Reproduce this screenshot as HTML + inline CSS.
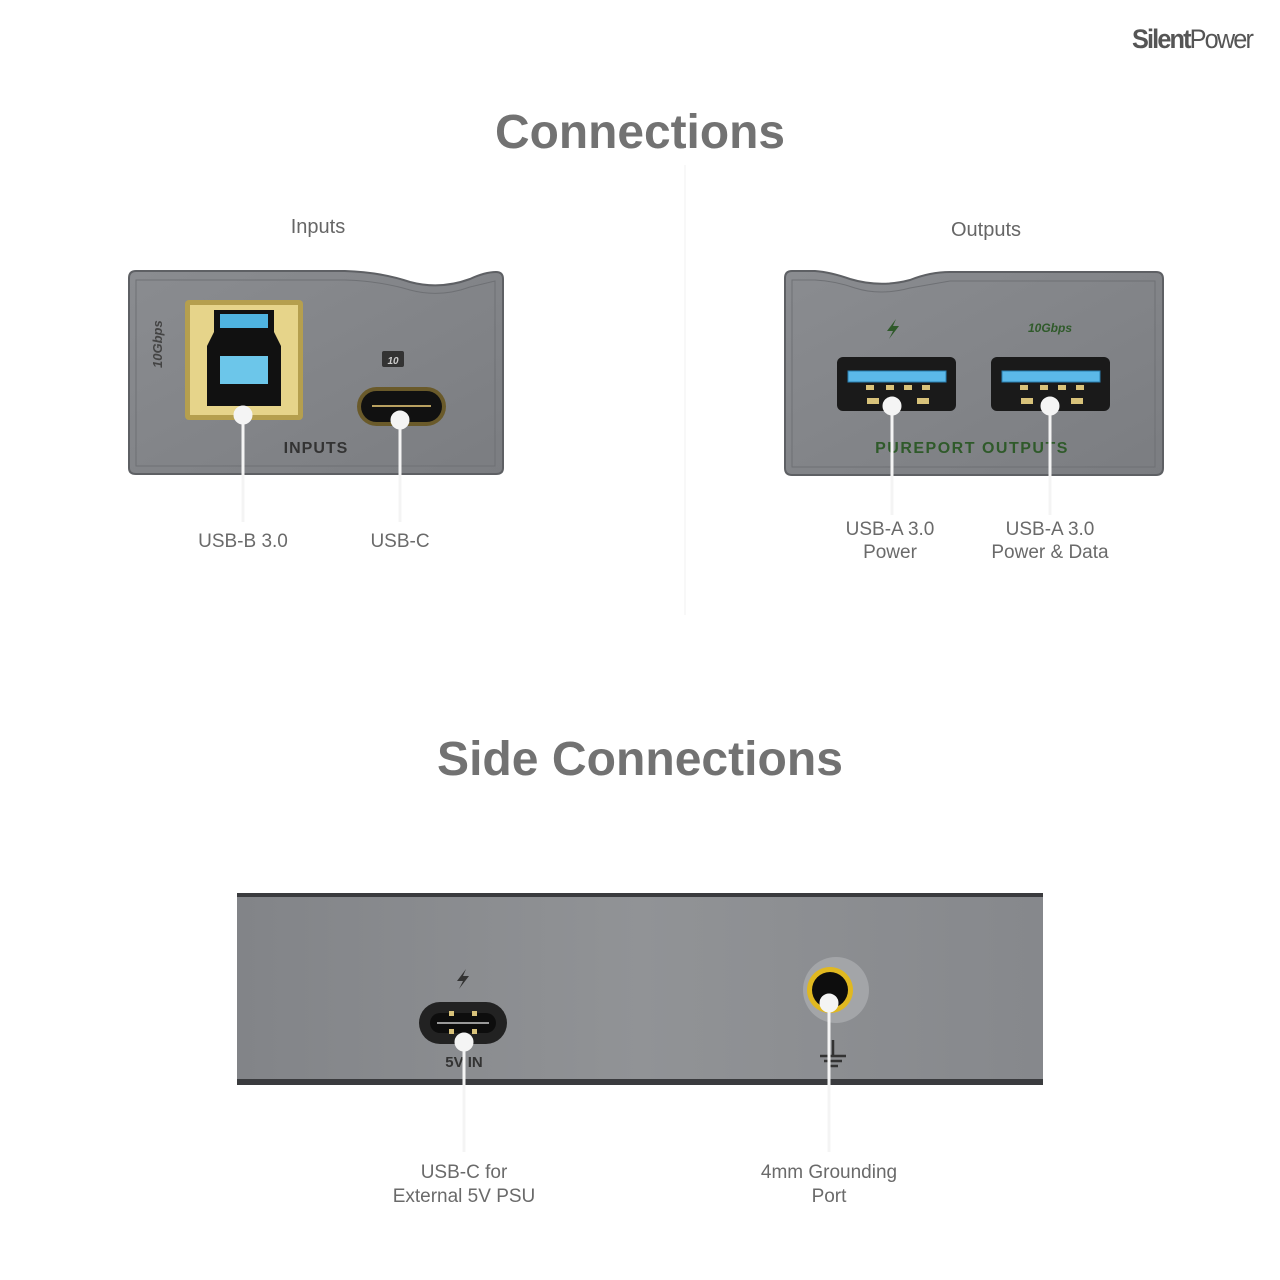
<!DOCTYPE html>
<html><head><meta charset="utf-8"><style>
html,body{margin:0;padding:0;background:#fff;}
svg{display:block;}
text{font-family:"Liberation Sans",sans-serif;}
</style></head><body>
<svg width="1280" height="1280" viewBox="0 0 1280 1280" xmlns="http://www.w3.org/2000/svg">
<defs>
<linearGradient id="pg" x1="0" y1="0" x2="1" y2="1"><stop offset="0" stop-color="#8a8c90"/><stop offset="1" stop-color="#7b7d81"/></linearGradient>
<linearGradient id="sg" x1="0" y1="0" x2="1" y2="0"><stop offset="0" stop-color="#828488"/><stop offset="0.5" stop-color="#919396"/><stop offset="1" stop-color="#86888c"/></linearGradient>
</defs>
<rect width="1280" height="1280" fill="#fff"/>
<text x="1252" y="48" text-anchor="end" font-size="27" fill="#555" font-weight="bold" letter-spacing="-2" textLength="120" lengthAdjust="spacingAndGlyphs">Silent<tspan font-weight="normal">Power</tspan></text>
<text x="640" y="148" text-anchor="middle" font-size="48" font-weight="bold" fill="#727272" textLength="290" lengthAdjust="spacingAndGlyphs">Connections</text>
<line x1="685" y1="165" x2="685" y2="615" stroke="#f2f2f2" stroke-width="1"/>
<text x="318" y="233" text-anchor="middle" font-size="20" fill="#666">Inputs</text>
<text x="986" y="236" text-anchor="middle" font-size="20" fill="#666">Outputs</text>

<!-- Left panel -->
<path d="M129,278 Q129,271 136,271 L345,271 Q380,272 410,282 Q440,290 470,279 Q485,272 496,272 Q503,272 503,279 L503,468 Q503,474 496,474 L136,474 Q129,474 129,468 Z" fill="url(#pg)" stroke="#5e6064" stroke-width="2"/>
<path d="M136,280 L345,280 Q380,281 410,290 Q440,298 470,287 L495,281 L495,466 L136,466 Z" fill="none" stroke="#6e7074" stroke-width="1"/>
<rect x="185" y="300" width="118" height="120" rx="4" fill="#b59f4e"/>
<rect x="190" y="305" width="108" height="110" fill="#e6d48a"/>
<rect x="214" y="310" width="60" height="22" fill="#111"/>
<rect x="220" y="314" width="48" height="14" fill="#4fb3e0"/>
<path d="M214,332 L274,332 L281,346 L281,406 L207,406 L207,346 Z" fill="#111"/>
<rect x="220" y="356" width="48" height="28" fill="#6cc6ea"/>
<text x="162" y="368" font-size="13" font-weight="bold" fill="#444" transform="rotate(-90 162 368)" font-style="italic">10Gbps</text>
<rect x="382" y="351" width="22" height="16" rx="2" fill="#333"/>
<text x="393" y="364" text-anchor="middle" font-size="10" fill="#ccc" font-style="italic" font-weight="bold">10</text>
<rect x="357" y="387" width="89" height="39" rx="19.5" fill="#6a5a2a"/>
<rect x="361" y="391" width="81" height="31" rx="15.5" fill="#111"/>
<line x1="372" y1="406" x2="431" y2="406" stroke="#b8a060" stroke-width="2"/>
<text x="316" y="453" text-anchor="middle" font-size="16" font-weight="bold" fill="#333" letter-spacing="1">INPUTS</text>

<!-- Right panel -->
<path d="M785,278 Q785,271 792,271 L815,271 Q830,272 850,279 Q880,288 910,280 Q930,272 950,272 L1156,272 Q1163,272 1163,279 L1163,468 Q1163,475 1156,475 L792,475 Q785,475 785,468 Z" fill="url(#pg)" stroke="#5e6064" stroke-width="2"/>
<path d="M792,280 L815,280 Q835,281 855,288 Q880,296 910,288 L950,281 L1155,281 L1155,467 L792,467 Z" fill="none" stroke="#6e7074" stroke-width="1"/>
<polygon points="896,319 887,331 893,331 889,339 899,326 893,326" fill="#2f5a2a"/>
<text x="1050" y="332" text-anchor="middle" font-size="12" fill="#2f5a2a" font-weight="bold" font-style="italic">10Gbps</text>
<rect x="837" y="357" width="119" height="54" rx="6" fill="#1a1a1a"/>
<rect x="848" y="371" width="98" height="11" fill="#5bb8e8" stroke="#2a7fb0"/>
<rect x="991" y="357" width="119" height="54" rx="6" fill="#1a1a1a"/>
<rect x="1002" y="371" width="98" height="11" fill="#5bb8e8" stroke="#2a7fb0"/>
<g fill="#d8c27a">
<rect x="866" y="385" width="8" height="5"/><rect x="886" y="385" width="8" height="5"/><rect x="904" y="385" width="8" height="5"/><rect x="922" y="385" width="8" height="5"/>
<rect x="867" y="398" width="12" height="6"/><rect x="917" y="398" width="12" height="6"/>
<rect x="1020" y="385" width="8" height="5"/><rect x="1040" y="385" width="8" height="5"/><rect x="1058" y="385" width="8" height="5"/><rect x="1076" y="385" width="8" height="5"/>
<rect x="1021" y="398" width="12" height="6"/><rect x="1071" y="398" width="12" height="6"/>
</g>
<text x="972" y="453" text-anchor="middle" font-size="16" font-weight="bold" fill="#2f5a2a" letter-spacing="1.5">PUREPORT OUTPUTS</text>

<!-- connectors top -->
<g stroke="#f4f4f4" stroke-width="3" fill="#f4f4f4">
<line x1="243" y1="415" x2="243" y2="522"/><circle cx="243" cy="415" r="8"/>
<line x1="400" y1="420" x2="400" y2="522"/><circle cx="400" cy="420" r="8"/>
<line x1="892" y1="406" x2="892" y2="515"/><circle cx="892" cy="406" r="8"/>
<line x1="1050" y1="406" x2="1050" y2="515"/><circle cx="1050" cy="406" r="8"/>
</g>
<g font-size="19" fill="#6a6a6a" text-anchor="middle">
<text x="243" y="547">USB-B 3.0</text>
<text x="400" y="547">USB-C</text>
<text x="890" y="535">USB-A 3.0</text><text x="890" y="558">Power</text>
<text x="1050" y="535">USB-A 3.0</text><text x="1050" y="558">Power &amp; Data</text>
</g>

<text x="640" y="775" text-anchor="middle" font-size="48" font-weight="bold" fill="#727272" textLength="406" lengthAdjust="spacingAndGlyphs">Side Connections</text>

<!-- side panel -->
<rect x="237" y="893" width="806" height="192" fill="url(#sg)"/>
<rect x="237" y="893" width="806" height="4" fill="#3a3b3e"/>
<rect x="237" y="1079" width="806" height="6" fill="#3a3b3e"/>
<polygon points="466,969 457,981 463,981 459,989 469,976 463,976" fill="#333"/>
<rect x="419" y="1002" width="88" height="42" rx="21" fill="#222"/>
<rect x="430" y="1013" width="66" height="20" rx="10" fill="#0d0d0d"/>
<line x1="437" y1="1023" x2="489" y2="1023" stroke="#999" stroke-width="2"/>
<g fill="#d8c27a"><rect x="449" y="1011" width="5" height="5"/><rect x="472" y="1011" width="5" height="5"/><rect x="449" y="1029" width="5" height="5"/><rect x="472" y="1029" width="5" height="5"/></g>
<text x="464" y="1067" text-anchor="middle" font-size="15" font-weight="bold" fill="#333">5V IN</text>
<circle cx="836" cy="990" r="33" fill="#a3a5a8"/>
<circle cx="830" cy="990" r="23" fill="#e0b820"/>
<circle cx="830" cy="990" r="18" fill="#0d0d0d"/>
<g stroke="#333" stroke-width="2.5"><line x1="833" y1="1040" x2="833" y2="1056"/><line x1="820" y1="1056" x2="846" y2="1056"/><line x1="824" y1="1061" x2="842" y2="1061"/><line x1="828" y1="1066" x2="838" y2="1066"/></g>

<g stroke="#f4f4f4" stroke-width="3" fill="#f4f4f4">
<line x1="464" y1="1042" x2="464" y2="1152"/><circle cx="464" cy="1042" r="8"/>
<line x1="829" y1="1003" x2="829" y2="1152"/><circle cx="829" cy="1003" r="8"/>
</g>
<g font-size="19" fill="#6a6a6a" text-anchor="middle">
<text x="464" y="1178">USB-C for</text><text x="464" y="1202">External 5V PSU</text>
<text x="829" y="1178">4mm Grounding</text><text x="829" y="1202">Port</text>
</g>
</svg>
</body></html>
